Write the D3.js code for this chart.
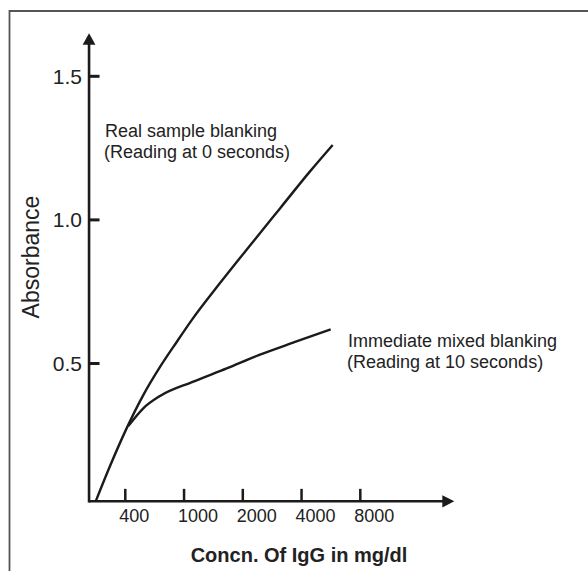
<!DOCTYPE html>
<html>
<head>
<meta charset="utf-8">
<script src="https://cdn.jsdelivr.net/npm/d3@7"></script>
<style>
  html, body { margin: 0; padding: 0; background: #fff; }
  svg { display: block; font-family: "Liberation Sans", Arial, sans-serif; }
</style>
</head>
<body>
<svg id="chart" width="588" height="571"></svg>
<script>
// ---- data ----
const xTickLabels = ["400", "1000", "2000", "4000", "8000"];
const yTickValues = [0.5, 1.0, 1.5];
// x positions expressed on the tick-index scale (0 = "400", 4 = "8000")
const realX = [-0.504, -0.260, 0.024, 0.306, 0.591, 0.875, 1.130, 1.612, 2.123, 2.633, 3.144, 3.530];
const realY = [0.020, 0.143, 0.275, 0.390, 0.488, 0.575, 0.651, 0.780, 0.911, 1.040, 1.169, 1.261];
const immX = [0.051, 0.306, 0.591, 1.157, 1.726, 2.281, 2.889, 3.496];
const immY = [0.282, 0.344, 0.387, 0.437, 0.483, 0.530, 0.575, 0.619];
const seriesNames = ["Real sample blanking", "Immediate mixed blanking"];
const seriesNotes = ["(Reading at 0 seconds)", "(Reading at 10 seconds)"];
const xTitle = "Concn. Of IgG in mg/dl";
const yTitle = "Absorbance";

// ---- scales ----
const x = d3.scaleLinear().domain([0, 4]).range([125.3, 360.3]);
const y = d3.scaleLinear().domain([0.5, 1.5]).range([363.5, 76.3]);
const xAxisMin = -0.617, xAxisMax = 5.6;   // index units
const yAxisMin = 0.02, yAxisMax = 1.65;    // absorbance units

const svg = d3.select("#chart");
const ink = "#1c1a1a";

// frame
svg.append("path").attr("d", "M9.5,571 L9.5,11 L588,11")
  .attr("fill", "none").attr("stroke", "#555").attr("stroke-width", 1.8);

// axes lines
const x0 = x(xAxisMin), y0 = y(yAxisMin);
svg.append("line").attr("x1", x0).attr("y1", y0).attr("x2", x(xAxisMax) - 10).attr("y2", y0)
  .attr("stroke", ink).attr("stroke-width", 2.5);
svg.append("line").attr("x1", x0).attr("y1", y0 + 1.2).attr("x2", x0).attr("y2", y(yAxisMax) + 10)
  .attr("stroke", ink).attr("stroke-width", 2.6);
// arrow heads
const xt = x(xAxisMax), yt = y(yAxisMax);
svg.append("path").attr("d", `M${xt},${y0} L${xt - 12},${y0 - 6.2} L${xt - 12},${y0 + 6.2} Z`).attr("fill", ink);
svg.append("path").attr("d", `M${x0},${yt} L${x0 - 6.4},${yt + 11.5} L${x0 + 6.4},${yt + 11.5} Z`).attr("fill", ink);

// y ticks
const yt_g = svg.append("g");
yTickValues.forEach(v => {
  yt_g.append("line").attr("x1", x0).attr("x2", x0 + 10.5).attr("y1", y(v)).attr("y2", y(v))
    .attr("stroke", ink).attr("stroke-width", 3);
  yt_g.append("text").attr("x", x0 - 7).attr("y", y(v) + 7.5).attr("text-anchor", "end")
    .attr("font-size", 21).attr("fill", "#222").text(d3.format(".1f")(v));
});

// x ticks
xTickLabels.forEach((lab, i) => {
  svg.append("line").attr("x1", x(i)).attr("x2", x(i)).attr("y1", y0).attr("y2", y0 - 12.5)
    .attr("stroke", ink).attr("stroke-width", 2.5);
  svg.append("text").attr("x", x(i) - 6).attr("y", 521.5).attr("text-anchor", "start")
    .attr("font-size", 18).attr("fill", "#222").text(lab);
});

// curves
const line = d3.line().x(d => x(d[0])).y(d => y(d[1])).curve(d3.curveMonotoneX);
svg.append("path").datum(realX.map((v, i) => [v, realY[i]]))
  .attr("d", line).attr("fill", "none").attr("stroke", ink).attr("stroke-width", 2.4);
svg.append("path").datum(immX.map((v, i) => [v, immY[i]]))
  .attr("d", line).attr("fill", "none").attr("stroke", ink).attr("stroke-width", 2.4);

// annotations
const ann = [
  { x: 105, y: 136.7, lines: [seriesNames[0], seriesNotes[0]] },
  { x: 348, y: 346.7, lines: [seriesNames[1], seriesNotes[1]] }
];
ann.forEach(a => {
  a.lines.forEach((t, j) => {
    svg.append("text").attr("x", a.x - (j === 1 ? 1 : 0)).attr("y", a.y + j * 21)
      .attr("font-size", 18).attr("fill", "#222").text(t);
  });
});

// axis titles
svg.append("text").attr("transform", "translate(38.5,257) rotate(-90)")
  .attr("text-anchor", "middle").attr("font-size", 23).attr("fill", "#222").text(yTitle);
svg.append("text").attr("x", 299).attr("y", 561.5).attr("text-anchor", "middle")
  .attr("font-size", 20).attr("font-weight", "bold").attr("fill", "#222").text(xTitle);
</script>
</body>
</html>
